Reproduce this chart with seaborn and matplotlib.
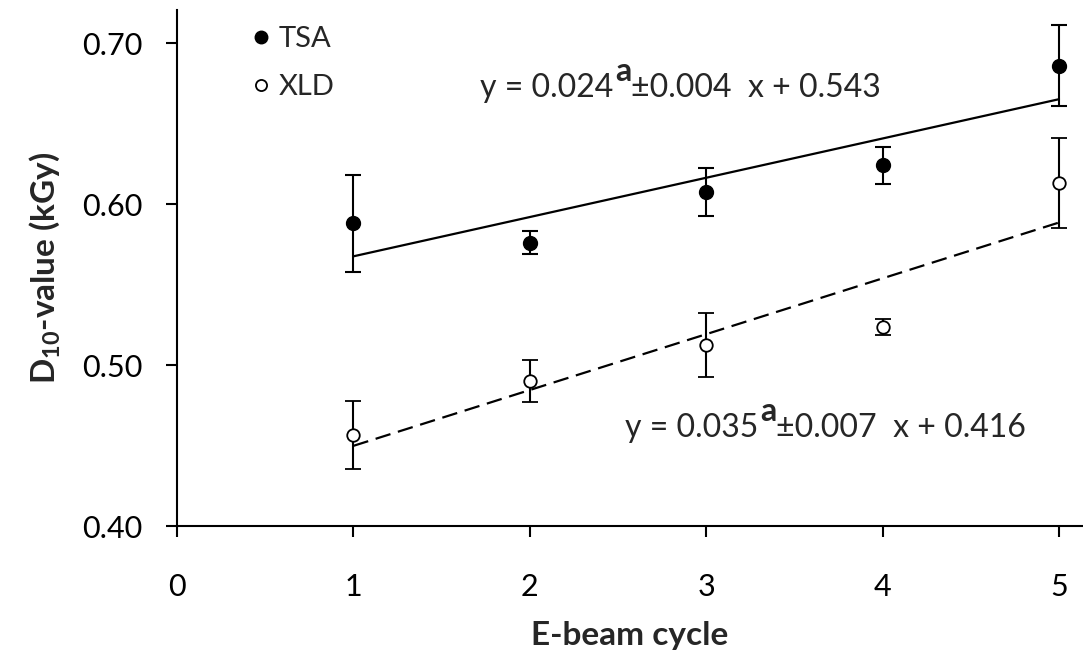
import matplotlib
matplotlib.use("Agg")
import matplotlib.pyplot as plt
import numpy as np
import seaborn as sns
from matplotlib.lines import Line2D

# values
cycle = [1, 2, 3, 4, 5]
tsa_d10 = [0.588, 0.576, 0.6075, 0.624, 0.686]
tsa_err = [0.030, 0.007, 0.015, 0.0115, 0.025]
xld_d10 = [0.4565, 0.490, 0.5124, 0.5238, 0.613]
xld_err = [0.021, 0.013, 0.020, 0.005, 0.028]

# equation pieces: slope, superscript, rest
tsa_eq = ["y = 0.024", "a", "\u00b10.004  x + 0.543"]
xld_eq = ["y = 0.035", "a", "\u00b10.007  x + 0.416"]

sns.set_style("ticks")
plt.rcParams["font.family"] = ["Lato", "DejaVu Sans"]
plt.rcParams["mathtext.fontset"] = "custom"
plt.rcParams["mathtext.rm"] = "Lato"
plt.rcParams["mathtext.it"] = "Lato:italic"
plt.rcParams["mathtext.bf"] = "Lato:bold"

fig = plt.figure(figsize = (10.83, 6.58), dpi = 100)
ax = fig.add_axes([0.1634, 0.2006, 0.8366, 0.7842])

# error bars + points
ax.errorbar(cycle, tsa_d10, yerr = tsa_err, fmt = "o", color = "black",
            markersize = 10, elinewidth = 1.5, capsize = 5.5, capthick = 1.5,
            zorder = 3)
ax.errorbar(cycle, xld_d10, yerr = xld_err, fmt = "o", color = "black",
            markerfacecolor = "white", markeredgewidth = 1.3, markersize = 9,
            elinewidth = 1.5, capsize = 5.5, capthick = 1.5, zorder = 3)

# linear fits
sns.regplot(x = cycle, y = tsa_d10, ax = ax, ci = None, scatter = False,
            truncate = True, line_kws = dict(color = "black", lw = 1.6))
sns.regplot(x = cycle, y = xld_d10, ax = ax, ci = None, scatter = False,
            truncate = True,
            line_kws = dict(color = "black", lw = 1.6, dashes = (7, 3.5)))


def equation(x, y, parts):
    t1 = ax.text(x, y, parts[0], fontsize = 23, va = "baseline", ha = "left")
    t2 = ax.annotate(parts[1], xy = (1, 0), xycoords = t1,
                     xytext = (1, 12), textcoords = "offset points",
                     fontsize = 23, fontweight = "bold", va = "bottom")
    ax.annotate(parts[2], xy = (1, 0), xycoords = t2,
                xytext = (0, -12), textcoords = "offset points",
                fontsize = 23, va = "bottom")


fig.canvas.draw()
equation(1.72, 0.6665, tsa_eq)
equation(2.54, 0.4555, xld_eq)

ax.set_xlim(0, 5.136)
ax.set_ylim(0.40, 0.7205)
ax.set_xticks([0, 1, 2, 3, 4, 5])
ax.set_yticks([0.40, 0.50, 0.60, 0.70])
ax.set_yticklabels(["0.40", "0.50", "0.60", "0.70"])

for s in ["top", "right"]:
    ax.spines[s].set_visible(False)
for s in ["left", "bottom"]:
    ax.spines[s].set_linewidth(1.5)
    ax.spines[s].set_color("black")

ax.tick_params(axis = "x", direction = "out", length = 8, width = 1.5,
               labelsize = 22, pad = 26, colors = "black")
ax.tick_params(axis = "y", direction = "out", length = 8, width = 1.5,
               labelsize = 22, pad = 17, colors = "black")

ax.set_xlabel("E-beam cycle", fontsize = 24, fontweight = "bold", labelpad = 14)
ax.set_ylabel(r"$\mathbf{D_{10}}$-value (kGy)", fontsize = 24,
              fontweight = "bold", labelpad = 14)

handles = [
    Line2D([], [], marker = "o", ls = "none", color = "black", markersize = 9),
    Line2D([], [], marker = "o", ls = "none", color = "black",
           markerfacecolor = "white", markeredgewidth = 1.3, markersize = 8),
]
ax.legend(handles, ["TSA", "XLD"], loc = "upper left",
          bbox_to_anchor = (0.064, 1.003), frameon = False, fontsize = 21,
          handlelength = 0.6, handletextpad = 0.3, labelspacing = 0.75,
          borderpad = 0.1)

fig.savefig("out.png", dpi = 100)
